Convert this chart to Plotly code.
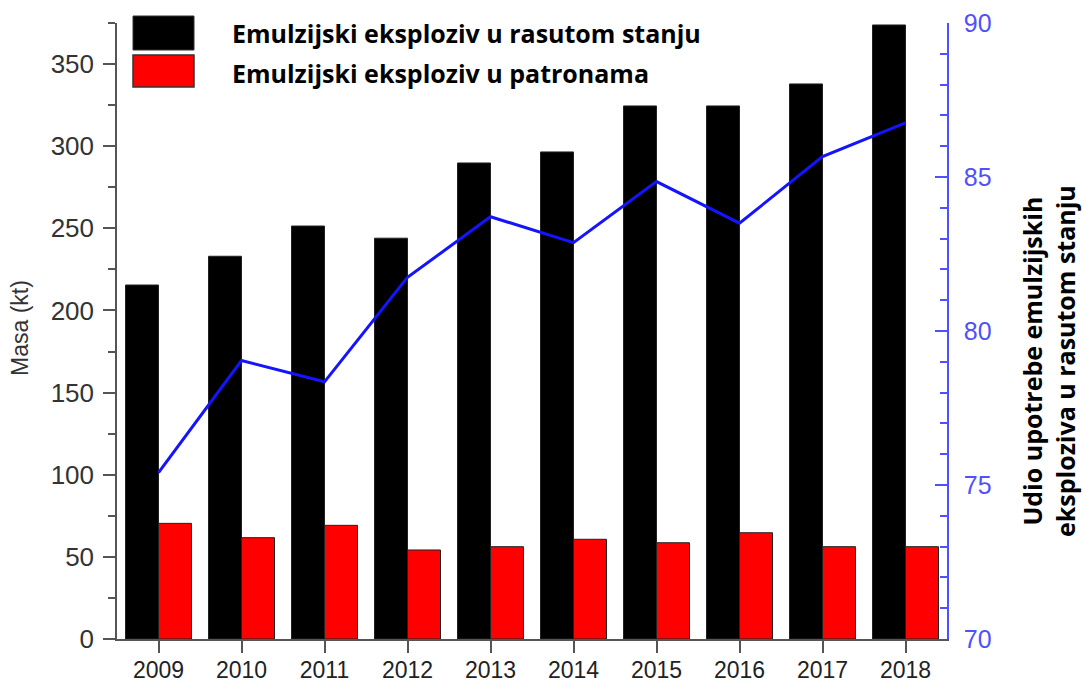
import plotly.graph_objects as go

years = ["2009", "2010", "2011", "2012", "2013", "2014", "2015", "2016", "2017", "2018"]
bulk = [215.5, 233, 251.4, 244, 289.8, 296.5, 324.5, 324.5, 337.9, 373.8]
cartridge = [70.4, 61.7, 69.2, 54.2, 56.2, 60.7, 58.6, 64.7, 56.2, 56.2]
share = [75.4, 79.04, 78.35, 81.74, 83.71, 82.87, 84.85, 83.5, 85.66, 86.76]

name_bulk = "Emulzijski eksploziv u rasutom stanju"
name_cart = "Emulzijski eksploziv u patronama"
left_title = "Masa (kt)"
right_title = "Udio upotrebe emulzijskih<br>eksploziva u rasutom stanju"

BLUE = "rgb(20,20,255)"
AXBLUE = "rgb(80,80,255)"
GRAY = "#555555"
LBL = "Open Sans"

fig = go.Figure()
fig.add_trace(go.Bar(x=years, y=bulk, name=name_bulk, marker=dict(color="black", line=dict(color="#222", width=1))))
fig.add_trace(go.Bar(x=years, y=cartridge, name=name_cart, marker=dict(color="#ff0000", line=dict(color="#222", width=1))))
fig.add_trace(go.Scatter(x=years, y=share, yaxis="y2", mode="lines", line=dict(color=BLUE, width=3), name="Udio"))

fig.update_layout(
    width=1084, height=684,
    margin=dict(l=117, r=137, t=23, b=45, autoexpand=False),
    paper_bgcolor="white", plot_bgcolor="white",
    barmode="group", bargap=0.205, bargroupgap=0,
    showlegend=False,
    font=dict(family="Liberation Sans, Arial", color="#333"),
    xaxis=dict(
        type="category", range=[-0.5, 9.5], automargin=False,
        showline=True, linecolor=GRAY, linewidth=1.5,
        ticks="outside", ticklen=12, tickcolor=GRAY, tickwidth=1.5,
        tickfont=dict(size=23, color="#222"), ticklabelstandoff=-2,
        showgrid=False, zeroline=False,
    ),
    yaxis=dict(
        range=[0, 375], tickvals=[0, 50, 100, 150, 200, 250, 300, 350], automargin=False,
        showline=True, linecolor=GRAY, linewidth=1.5,
        ticks="outside", ticklen=12, tickcolor=GRAY, tickwidth=1.5,
        minor=dict(dtick=25, ticks="outside", ticklen=7, tickcolor=GRAY, tickwidth=1.5),
        tickfont=dict(size=26, color="#333"), ticklabelstandoff=4,
        showgrid=False, zeroline=False,
    ),
    yaxis2=dict(
        overlaying="y", side="right", range=[70, 90], tickvals=[70, 75, 80, 85, 90], automargin=False,
        showline=True, linecolor=AXBLUE, linewidth=1.5,
        ticks="inside", ticklen=12, tickcolor=AXBLUE, tickwidth=1.5,
        minor=dict(dtick=1, ticks="inside", ticklen=7, tickcolor=AXBLUE, tickwidth=1.5),
        tickfont=dict(size=25, color=AXBLUE), ticklabelstandoff=10,
        showgrid=False, zeroline=False,
    ),
)

# custom legend
fig.add_shape(type="rect", xref="paper", yref="paper", x0=(133-117)/830, x1=(194-117)/830, y0=(639-50)/616, y1=(639-16)/616,
              fillcolor="black", line=dict(color="#333", width=1))
fig.add_shape(type="rect", xref="paper", yref="paper", x0=(133-117)/830, x1=(194-117)/830, y0=(639-87)/616, y1=(639-55)/616,
              fillcolor="#ff0000", line=dict(color="#333", width=1.5))
fig.add_annotation(xref="paper", yref="paper", x=(230-117)/830, y=(639-33)/616, text=name_bulk, showarrow=False,
                   xanchor="left", yanchor="middle", font=dict(family=LBL, size=25, color="black", weight="bold"))
fig.add_annotation(xref="paper", yref="paper", x=(230-117)/830, y=(639-73)/616, text=name_cart, showarrow=False,
                   xanchor="left", yanchor="middle", font=dict(family=LBL, size=25, color="black", weight="bold"))

# axis titles
fig.add_annotation(xref="paper", yref="paper", x=(20-117)/830, y=(639-328)/616, text=left_title, showarrow=False,
                   textangle=-90, xanchor="center", yanchor="middle",
                   font=dict(family="Liberation Sans", size=23, color="#333"))
fig.add_annotation(xref="paper", yref="paper", x=(1048-117)/830, y=(639-361)/616, text=right_title, showarrow=False,
                   textangle=-90, xanchor="center", yanchor="middle",
                   font=dict(family=LBL, size=25, color="black", weight="bold"))

fig.write_html("out.html", config={"displayModeBar": False},
               post_script="document.body.style.margin='0';document.body.style.overflow='hidden';")
